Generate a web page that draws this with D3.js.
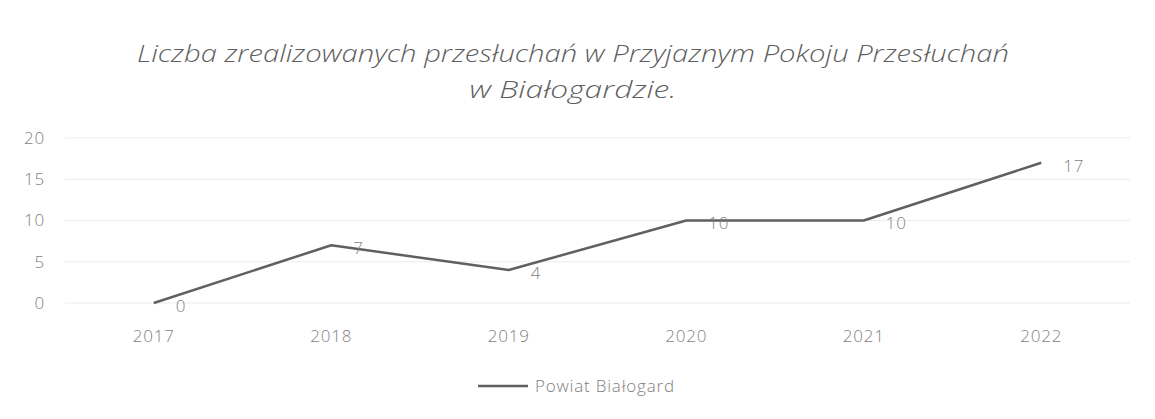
<!DOCTYPE html>
<html lang="pl">
<head>
<meta charset="UTF-8">
<title>Liczba przesłuchań</title>
<script src="https://d3js.org/d3.v7.min.js"></script>
<style>
  body { margin: 0; background: #fff; }
  svg { display: block; font-family: "Open Sans", "Liberation Sans", sans-serif; }
  .title { font-size: 24px; font-style: italic; font-weight: 300; fill: #5f5f5f; }
  .tick-label { font-size: 17px; fill: #7f7f7f; font-weight: 300; letter-spacing: 0.8px; }
  .data-label { font-size: 17px; fill: #7f7f7f; font-weight: 300; letter-spacing: 0.8px; }
  .legend-text { font-size: 17px; fill: #7f7f7f; font-weight: 300; letter-spacing: 0.8px; }
</style>
</head>
<body>
<svg id="chart"></svg>
<script>
  const years = ["2017", "2018", "2019", "2020", "2021", "2022"];
  const values = [0, 7, 4, 10, 10, 17];
  const yTicks = [0, 5, 10, 15, 20];
  const seriesName = "Powiat Białogard";
  const titleLines = [
    "Liczba zrealizowanych przesłuchań w Przyjaznym Pokoju Przesłuchań",
    "w Białogardzie."
  ];
  const titleWidths = [872, 207];

  const width = 1155, height = 419;
  const margin = { top: 138, right: 25, bottom: 116, left: 65 };

  const svg = d3.select("#chart").attr("width", width).attr("height", height);

  // title (scan is stretched wide, so fit each line to its measured width)
  svg.append("g")
    .selectAll("text")
    .data(titleLines)
    .join("text")
    .attr("class", "title")
    .attr("x", (d, i) => 573 - titleWidths[i] / 2)
    .attr("y", (d, i) => 62 + i * 36)
    .attr("textLength", (d, i) => titleWidths[i])
    .attr("lengthAdjust", "spacingAndGlyphs")
    .text(d => d);

  const x = d3.scaleBand()
    .domain(years)
    .range([margin.left, width - margin.right]);

  const y = d3.scaleLinear()
    .domain([0, 20])
    .range([height - margin.bottom, margin.top]);

  // gridlines
  svg.append("g")
    .selectAll("line")
    .data(yTicks)
    .join("line")
    .attr("x1", margin.left)
    .attr("x2", width - margin.right)
    .attr("y1", d => y(d))
    .attr("y2", d => y(d))
    .attr("stroke", "#ececec")
    .attr("stroke-width", 1);

  // y labels
  svg.append("g")
    .selectAll("text")
    .data(yTicks)
    .join("text")
    .attr("class", "tick-label")
    .attr("x", 45)
    .attr("y", d => y(d))
    .attr("dy", "0.35em")
    .attr("text-anchor", "end")
    .text(d => d);

  // x labels
  svg.append("g")
    .selectAll("text")
    .data(years)
    .join("text")
    .attr("class", "tick-label")
    .attr("x", d => x(d) + x.bandwidth() / 2)
    .attr("y", y(0) + 39)
    .attr("text-anchor", "middle")
    .text(d => d);

  const points = years.map((yr, i) => ({ year: yr, value: values[i] }));

  const line = d3.line()
    .x(d => x(d.year) + x.bandwidth() / 2)
    .y(d => y(d.value));

  svg.append("path")
    .datum(points)
    .attr("d", line)
    .attr("fill", "none")
    .attr("stroke", "#606060")
    .attr("stroke-width", 2.5)
    .attr("stroke-linejoin", "round");

  // data labels, right of each point
  svg.append("g")
    .selectAll("text")
    .data(points)
    .join("text")
    .attr("class", "data-label")
    .attr("x", d => x(d.year) + x.bandwidth() / 2 + 22)
    .attr("y", d => y(d.value) + 3)
    .attr("dy", "0.35em")
    .text(d => d.value);

  // legend
  const lg = svg.append("g").attr("transform", "translate(478,386)");
  lg.append("line")
    .attr("x1", 0).attr("x2", 50)
    .attr("stroke", "#606060").attr("stroke-width", 2.5);
  lg.append("text")
    .attr("class", "legend-text")
    .attr("x", 57)
    .attr("dy", "0.35em")
    .text(seriesName);
</script>
</body>
</html>
